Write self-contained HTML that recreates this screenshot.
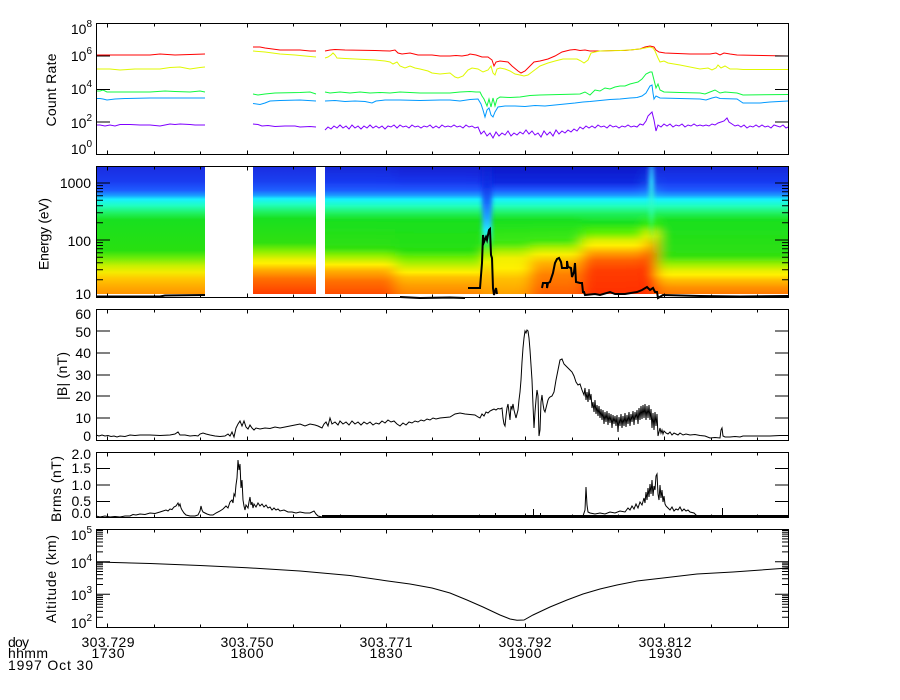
<!DOCTYPE html>
<html><head><meta charset="utf-8"><style>
html,body{margin:0;padding:0;background:#fff;}
svg{display:block;}
text{font-family:"Liberation Sans",sans-serif;fill:#000;}
</style></head><body>
<svg width="900" height="700" viewBox="0 0 900 700" xmlns="http://www.w3.org/2000/svg">
<defs>
<linearGradient id="g1" gradientUnits="userSpaceOnUse" x1="0" y1="166" x2="0" y2="294">
<stop offset="0" stop-color="#1a2ce0"/><stop offset=".12" stop-color="#1a3cf0"/><stop offset=".19" stop-color="#1e5cff"/><stop offset=".23" stop-color="#1a9cff"/><stop offset=".26" stop-color="#18f0ff"/><stop offset=".31" stop-color="#20ffc0"/><stop offset=".37" stop-color="#20f060"/><stop offset=".42" stop-color="#18e020"/><stop offset=".66" stop-color="#28e010"/><stop offset=".72" stop-color="#70ec08"/><stop offset=".78" stop-color="#c8f000"/><stop offset=".83" stop-color="#f4ec00"/><stop offset=".88" stop-color="#ffc800"/><stop offset=".93" stop-color="#ffb000"/><stop offset="1" stop-color="#ff9400"/>
</linearGradient>
<linearGradient id="g2" gradientUnits="userSpaceOnUse" x1="0" y1="166" x2="0" y2="294">
<stop offset="0" stop-color="#1a2ce0"/><stop offset=".12" stop-color="#1a40f0"/><stop offset=".19" stop-color="#1e60ff"/><stop offset=".23" stop-color="#1aa0ff"/><stop offset=".255" stop-color="#18f0ff"/><stop offset=".3" stop-color="#20ffc0"/><stop offset=".36" stop-color="#20f060"/><stop offset=".41" stop-color="#18e020"/><stop offset=".6" stop-color="#30e010"/><stop offset=".67" stop-color="#90f000"/><stop offset=".73" stop-color="#e8f000"/><stop offset=".76" stop-color="#fff000"/><stop offset=".81" stop-color="#ffb000"/><stop offset=".88" stop-color="#ff7000"/><stop offset="1" stop-color="#ff3c00"/>
</linearGradient>
<linearGradient id="g3a" gradientUnits="userSpaceOnUse" x1="0" y1="166" x2="0" y2="294">
<stop offset="0" stop-color="#1828d8"/><stop offset=".12" stop-color="#1838f0"/><stop offset=".19" stop-color="#1e5cff"/><stop offset=".23" stop-color="#1a9cff"/><stop offset=".26" stop-color="#18f0ff"/><stop offset=".31" stop-color="#20ffc0"/><stop offset=".37" stop-color="#20f060"/><stop offset=".42" stop-color="#18e020"/><stop offset=".64" stop-color="#30e010"/><stop offset=".7" stop-color="#90f000"/><stop offset=".75" stop-color="#e0f000"/><stop offset=".77" stop-color="#fff000"/><stop offset=".82" stop-color="#ffb000"/><stop offset=".9" stop-color="#ff7000"/><stop offset="1" stop-color="#ff4c00"/>
</linearGradient>
<linearGradient id="g3b" gradientUnits="userSpaceOnUse" x1="0" y1="166" x2="0" y2="294">
<stop offset="0" stop-color="#1420d0"/><stop offset=".12" stop-color="#1834ec"/><stop offset=".19" stop-color="#1e5cff"/><stop offset=".23" stop-color="#1a9cff"/><stop offset=".26" stop-color="#18f0ff"/><stop offset=".31" stop-color="#20ffc0"/><stop offset=".37" stop-color="#20f060"/><stop offset=".42" stop-color="#18e020"/><stop offset=".66" stop-color="#28e010"/><stop offset=".73" stop-color="#80f000"/><stop offset=".79" stop-color="#d0f000"/><stop offset=".83" stop-color="#fff000"/><stop offset=".87" stop-color="#ffc000"/><stop offset=".93" stop-color="#ffa000"/><stop offset="1" stop-color="#ff8400"/>
</linearGradient>
<linearGradient id="g3d" gradientUnits="userSpaceOnUse" x1="0" y1="166" x2="0" y2="294">
<stop offset="0" stop-color="#1020d0"/><stop offset=".15" stop-color="#1030e8"/><stop offset=".3" stop-color="#1a70ff"/><stop offset=".42" stop-color="#20b0ff"/><stop offset=".5" stop-color="#20e8ff"/><stop offset=".56" stop-color="#30f0c0"/><stop offset=".62" stop-color="#40f040"/><stop offset=".7" stop-color="#b0f000"/><stop offset=".75" stop-color="#f0f000"/><stop offset=".85" stop-color="#ffc000"/><stop offset="1" stop-color="#ff9800"/>
</linearGradient>
<linearGradient id="g3e" gradientUnits="userSpaceOnUse" x1="0" y1="166" x2="0" y2="294">
<stop offset="0" stop-color="#1018c8"/><stop offset=".13" stop-color="#1028e0"/><stop offset=".19" stop-color="#1e5cff"/><stop offset=".23" stop-color="#1a9cff"/><stop offset=".26" stop-color="#18f0ff"/><stop offset=".31" stop-color="#20ffc0"/><stop offset=".37" stop-color="#20f060"/><stop offset=".42" stop-color="#18e020"/><stop offset=".6" stop-color="#40e810"/><stop offset=".67" stop-color="#b0f000"/><stop offset=".72" stop-color="#f0f000"/><stop offset=".8" stop-color="#fff000"/><stop offset=".88" stop-color="#ffc000"/><stop offset="1" stop-color="#ffa000"/>
</linearGradient>
<linearGradient id="g3f" gradientUnits="userSpaceOnUse" x1="0" y1="166" x2="0" y2="294">
<stop offset="0" stop-color="#1018c8"/><stop offset=".13" stop-color="#1028e0"/><stop offset=".19" stop-color="#1e5cff"/><stop offset=".23" stop-color="#1a9cff"/><stop offset=".26" stop-color="#18f0ff"/><stop offset=".31" stop-color="#20ffc0"/><stop offset=".37" stop-color="#20f060"/><stop offset=".42" stop-color="#18e020"/><stop offset=".58" stop-color="#40e810"/><stop offset=".64" stop-color="#b0f000"/><stop offset=".69" stop-color="#f8f000"/><stop offset=".76" stop-color="#ffb000"/><stop offset=".85" stop-color="#ff8000"/><stop offset="1" stop-color="#ff6000"/>
</linearGradient>
<linearGradient id="g3g" gradientUnits="userSpaceOnUse" x1="0" y1="166" x2="0" y2="294">
<stop offset="0" stop-color="#1018c8"/><stop offset=".13" stop-color="#1028e0"/><stop offset=".19" stop-color="#1e5cff"/><stop offset=".23" stop-color="#1a9cff"/><stop offset=".26" stop-color="#18f0ff"/><stop offset=".31" stop-color="#20ffc0"/><stop offset=".37" stop-color="#20f060"/><stop offset=".44" stop-color="#18e020"/><stop offset=".52" stop-color="#60f000"/><stop offset=".58" stop-color="#d8f000"/><stop offset=".62" stop-color="#fff000"/><stop offset=".68" stop-color="#ffa000"/><stop offset=".74" stop-color="#ff6000"/><stop offset=".82" stop-color="#ff3c00"/><stop offset="1" stop-color="#ff3000"/>
</linearGradient>
<linearGradient id="g3h" gradientUnits="userSpaceOnUse" x1="0" y1="166" x2="0" y2="294">
<stop offset="0" stop-color="#1020d8"/><stop offset=".13" stop-color="#1a50f0"/><stop offset=".19" stop-color="#1e80ff"/><stop offset=".23" stop-color="#1ab0ff"/><stop offset=".26" stop-color="#18f0ff"/><stop offset=".31" stop-color="#20ffc0"/><stop offset=".37" stop-color="#20f060"/><stop offset=".45" stop-color="#40f000"/><stop offset=".51" stop-color="#d8f000"/><stop offset=".55" stop-color="#fff000"/><stop offset=".62" stop-color="#ffa000"/><stop offset=".7" stop-color="#ff5000"/><stop offset=".8" stop-color="#ff3000"/><stop offset="1" stop-color="#ff2800"/>
</linearGradient>
<linearGradient id="g3i" gradientUnits="userSpaceOnUse" x1="0" y1="166" x2="0" y2="294">
<stop offset="0" stop-color="#1828d8"/><stop offset=".12" stop-color="#1838f0"/><stop offset=".19" stop-color="#1e5cff"/><stop offset=".23" stop-color="#1a9cff"/><stop offset=".26" stop-color="#18f0ff"/><stop offset=".31" stop-color="#20ffc0"/><stop offset=".37" stop-color="#20f060"/><stop offset=".42" stop-color="#18e020"/><stop offset=".7" stop-color="#30e010"/><stop offset=".77" stop-color="#a0f000"/><stop offset=".82" stop-color="#e8f000"/><stop offset=".85" stop-color="#fff000"/><stop offset=".89" stop-color="#ffc000"/><stop offset=".95" stop-color="#ff9000"/><stop offset="1" stop-color="#ff7800"/>
</linearGradient>
<linearGradient id="gsp" gradientUnits="userSpaceOnUse" x1="0" y1="166" x2="0" y2="245">
<stop offset="0" stop-color="#30a0ff" stop-opacity=".9"/><stop offset=".2" stop-color="#30f0ff" stop-opacity=".9"/><stop offset=".6" stop-color="#30ffb0" stop-opacity=".7"/><stop offset="1" stop-color="#30f030" stop-opacity="0"/>
</linearGradient>
<filter id="hb" x="-10%" y="0" width="120%" height="100%"><feGaussianBlur stdDeviation="7 0"/></filter>
<filter id="hb2" x="-100%" y="0" width="300%" height="100%"><feGaussianBlur stdDeviation="2 0"/></filter>
<clipPath id="c3"><rect x="325" y="166" width="463" height="128"/></clipPath>
<path id="xtT" d="M107.5,0v4M247.5,0v4M386.5,0v4M525.5,0v4M664.5,0v4M154.5,0v3M200.5,0v3M293.5,0v3M340.5,0v3M432.5,0v3M479.5,0v3M572.5,0v3M618.5,0v3M711.5,0v3M757.5,0v3"/>
<path id="xtB" d="M107.5,0v-4M247.5,0v-4M386.5,0v-4M525.5,0v-4M664.5,0v-4M154.5,0v-3M200.5,0v-3M293.5,0v-3M340.5,0v-3M432.5,0v-3M479.5,0v-3M572.5,0v-3M618.5,0v-3M711.5,0v-3M757.5,0v-3"/>
<path id="p2m" d="M0,279.8h7M0,269.8h7M0,262.7h7M0,257.2h7M0,252.7h7M0,248.8h7M0,245.5h7M0,242.6h7M0,222.8h7M0,212.8h7M0,205.7h7M0,200.2h7M0,195.7h7M0,191.8h7M0,188.5h7M0,185.6h7"/>
<path id="p5m" d="M0,617.2h7M0,611.4h7M0,607.3h7M0,604.2h7M0,601.6h7M0,599.4h7M0,597.5h7M0,595.8h7M0,584.5h7M0,578.7h7M0,574.6h7M0,571.5h7M0,568.9h7M0,566.7h7M0,564.8h7M0,563.1h7M0,551.9h7M0,546.1h7M0,542h7M0,538.9h7M0,536.3h7M0,534.1h7M0,532.2h7M0,530.5h7"/>
</defs>

<rect width="900" height="700" fill="#fff"/>

<!-- ============ PANEL 1: Count Rate ============ -->
<g fill="none" stroke-width="1">
<polyline stroke="#ff0000" points="96,55 150,55 160,54 175,55 205,54"/>
<polyline stroke="#ff0000" points="253,47 260,47 265,48 280,50 300,50 310,51 316,51"/>
<polyline stroke="#ff0000" points="325,51 330,50 335,49.5 345,50 375,50.5 390,51 395,50 398,53 402,54 410,53 418,55 432,55 440,56 450,56 456,55.5 462,56 468,55 470,54 476,55 482,57 488,57 492,60 494,66 496,62 500,61 508,62 512,66 518,71 521,73 525,71 530,66 534,62 540,61 548,59 555,56 562,52 570,50 575,49.5 580,50.5 585,50 590,51 600,51 615,50.5 625,50.5 640,49 645,47 650,46 654,47 656,50 659,52 665,53 690,54 710,54 716,53 720,55 724,53 730,54 737,55 788,56"/>
<polyline stroke="#e0f800" points="96,69 110,69 120,70 135,69 160,69 170,67.5 180,67 190,69 200,67.5 205,67"/>
<polyline stroke="#e0f800" points="253,51 265,52 280,54 295,55 305,56 316,57"/>
<polyline stroke="#e0f800" points="325,58 328,57 331,55 333,53 335,55 337,58 345,58.5 355,59 365,59.5 375,60 385,61 390,62 393,64 397,62 400,66 405,68 410,66 415,68 420,69 428,71 432,73 440,74 450,73 455,77 458,78 463,76 468,70 472,68 478,69 483,72 488,70 491,66 493,73 495,75 497,69 500,68 505,69 510,71 515,74 520,75 524,76 528,75 532,72 536,69 540,66 548,63 555,61 563,59 570,59 577,59 581,61 584,63 588,60 591,53 595,52 600,51 620,50.5 630,50 640,49 645,48 650,47 653,48 655,51 658,58 660,62 664,61 668,63 680,65 700,69 708,68 712,70 716,68 718,65 721,68 725,66 730,69 737,69 743,69.5 788,69.5"/>
<polyline stroke="#10f840" points="96,91 100,91 103,90 107,92 150,92 165,91 175,91.5 190,92 200,91 205,92"/>
<polyline stroke="#10f840" points="253,94 258,95 265,94 275,93 300,92.5 310,92 316,94"/>
<polyline stroke="#10f840" points="325,92 330,93 340,92 350,93 360,92 370,93 380,92.5 390,93 400,92 420,93 440,93 450,93 460,92 470,91.5 476,92 480,92 482,96 484,99 487,106 489,99 491,107 493,98 495,106 497,99 500,97 510,97.5 520,97 530,95.5 540,95 560,94.5 580,94 585,92 590,95 595,90 600,91 605,88 610,89 615,87 620,86 625,86 630,84 638,82 642,79 646,74 650,72 652,72 654,80 656,88 658,84 660,90 664,92 680,92.5 700,93 705,94 710,92 715,90 720,93 725,92 737,93 743,95 788,94.5"/>
<polyline stroke="#0099ff" points="96,98.5 100,98.5 103,99 107,100 115,99 125,98.5 150,98 190,98 205,98"/>
<polyline stroke="#0099ff" points="253,103.5 260,104.5 265,103 270,101 280,100.5 300,100 316,101"/>
<polyline stroke="#0099ff" points="325,101 335,100.5 345,101.5 355,101 365,101.5 372,103 376,101 385,100 400,100 420,100.5 440,100 450,100 460,101 470,99.5 478,99 481,104 483,110 485,117 487,110 489,108 491,115 493,117 495,112 498,107 505,106 515,106 525,106.5 535,105.5 545,106 555,105 565,104 575,103 583,102 590,101.5 600,100.5 610,99.5 620,99 630,98 637,97.5 642,96 646,93 650,86 652,85 653,93 654,99 656,96 660,98 680,98.5 700,99 706,100 712,98 716,97 720,98.5 737,99 743,103 760,103 770,102 788,101"/>
<polyline stroke="#7f00ff" points="96,125 100,125 105,126 110,125 115,126 120,124.5 130,124.5 140,125 150,125 160,126 165,125 170,124 175,124.5 180,124 190,124.5 195,125 205,125"/>
<polyline stroke="#7f00ff" points="253,124 258,124.5 262,126 268,125.5 275,126.5 285,126 295,126 300,127 310,126.5 316,127"/>
<polyline stroke="#7f00ff" points="325,130 328,127 331,129 334,126 337,128 340,125 343,128 346,126 349,129 352,125 355,128 358,126 361,129 364,126 367,128 370,125 373,128 376,126 379,128 382,126 385,129 388,126 391,127 394,125 397,128 400,125 403,127 406,126 409,128 412,125 415,127 418,126 421,128 424,126 427,127 430,125 433,128 436,126 439,128 442,125 445,127 448,126 451,127 454,125 457,127 460,126 463,128 466,125 469,127 472,126 475,128 478,127 481,134 484,131 487,136 490,133 493,138 496,132 499,136 502,133 505,135 508,131 511,136 514,133 517,135 520,132 523,134 526,130 529,134 532,131 535,135 538,133 541,137 544,131 547,135 550,132 553,136 556,130 559,134 562,131 565,133 568,130 571,132 574,129 577,131 580,127 583,129 586,126 589,128 592,126 595,128 598,125 601,127 604,126 607,128 610,125 613,127 616,126 619,128 622,126 625,127 628,125 631,127 634,126 637,127 640,124 643,125 646,121 648,116 650,114 652,112 654,120 656,131 658,125 661,127 664,124 667,126 670,124 673,127 676,125 679,126 682,124 685,127 688,125 691,126 694,124 697,126 700,125 703,126 706,125 709,126 712,124 715,125 718,123 721,122 724,121 727,118 729,122 732,124 735,126 738,125 741,127 744,125 747,128 750,126 753,127 756,125 759,127 762,125 765,127 768,126 771,128 774,125 777,126 780,127 783,125 786,128 788,127"/>
</g>
<g stroke="#000" stroke-width="1" fill="none">
<rect x="96.5" y="23.5" width="692" height="131"/>
<path d="M96,56h14M96,89.5h14M96,122h14M775,56h14M775,89.5h14M775,122h14"/>
<use href="#xtT" y="23.5"/><use href="#xtB" y="154.5"/>
</g>
<text x="92" y="34" font-size="14" text-anchor="end">10<tspan dy="-7" font-size="10">8</tspan></text>
<text x="92" y="61" font-size="14" text-anchor="end">10<tspan dy="-7" font-size="10">6</tspan></text>
<text x="92" y="94" font-size="14" text-anchor="end">10<tspan dy="-7" font-size="10">4</tspan></text>
<text x="92" y="128" font-size="14" text-anchor="end">10<tspan dy="-7" font-size="10">2</tspan></text>
<text x="92" y="154" font-size="14" text-anchor="end">10<tspan dy="-7" font-size="10">0</tspan></text>
<text transform="translate(56,90) rotate(-90)" font-size="14" text-anchor="middle" textLength="73" lengthAdjust="spacing">Count Rate</text>

<!-- ============ PANEL 2: Spectrogram ============ -->
<rect x="96" y="166" width="109" height="128" fill="url(#g1)"/>
<rect x="253" y="166" width="63" height="128" fill="url(#g2)"/>
<g clip-path="url(#c3)">
<g filter="url(#hb)">
<rect x="290" y="166" width="105" height="128" fill="url(#g3a)"/>
<rect x="395" y="166" width="90" height="128" fill="url(#g3b)"/>
<rect x="485" y="166" width="10" height="128" fill="url(#g3e)"/>
<rect x="495" y="166" width="35" height="128" fill="url(#g3e)"/>
<rect x="530" y="166" width="52" height="128" fill="url(#g3f)"/>
<rect x="582" y="166" width="63" height="128" fill="url(#g3g)"/>
<rect x="645" y="166" width="12" height="128" fill="url(#g3h)"/>
<rect x="657" y="166" width="170" height="128" fill="url(#g3i)"/>
</g>
<rect x="482" y="166" width="10" height="128" fill="url(#g3d)" filter="url(#hb2)"/>
<rect x="649" y="166" width="5" height="80" fill="url(#gsp)" filter="url(#hb2)"/>
</g>
<g fill="none" stroke="#000" stroke-width="2">
<polyline points="97,296.5 160,296.5 165,295.5 205,295"/>
<polyline points="400,297 420,298 450,297.5 465,298"/>
<polyline points="468,288 480,288 482,263 483,235 484,242 486,237 487,240 489,230 490,229 491,255 492,258 493,288 494,295 496,288 497,294"/>
<polyline points="542,288 543,283 547,283 547,288 548,283 550,282 553,273 555,263 557,259 559,258 561,262 562,268 567,268 567,261 568,267 571,268 572,277 574,272 575,263 576,282 580,283 582,283 583,292 584,292 585,295 595,294 600,295 610,292 615,294 625,294 637,292 642,290 647,287 650,290 653,288 655,292 657,292 658,298 663,295 700,296 740,296.5 788,296"/>
</g>
<g stroke="#000" stroke-width="1" fill="none">
<rect x="96.5" y="166.5" width="692" height="131"/>
<path d="M96,183h14M96,240h14M775,183h14M775,240h14"/>
<use href="#p2m" x="96"/><use href="#p2m" x="782"/>
<use href="#xtT" y="166.5"/><use href="#xtB" y="297.5"/>
</g>
<text x="91" y="188" font-size="14" text-anchor="end">1000</text>
<text x="91" y="246" font-size="14" text-anchor="end">100</text>
<text x="91" y="299" font-size="14" text-anchor="end">10</text>
<text transform="translate(48.5,234) rotate(-90)" font-size="14" text-anchor="middle" textLength="72" lengthAdjust="spacing">Energy (eV)</text>

<!-- ============ PANEL 3: |B| ============ -->
<polyline fill="none" stroke="#000" stroke-width="1" points="96,435 99,436 102,435 105,436 108,435.5 111,436.5 114,436 117,437 120,436 125,436.5 130,435 135,435.5 140,435 150,435 160,435.5 170,435 175,434 178,432 180,435 185,435 190,436 195,435.5 198,436 200,434 203,433 206,434 210,435 215,436 220,436.5 225,436 228,434 230,436 232,432 234,437 236,428 238,424 240,421 242,426 244,421 246,427 248,429 250,425 252,428 254,430 256,428 260,429 265,428 270,428.5 275,427 280,428 285,427 290,426 295,425 300,424 305,426 310,424 315,425 318,426 320,427 322,428 324,424 326,422 328,426 330,418 332,424 335,422 338,425 340,421 343,424 346,422 349,425 352,421 355,424 358,422 361,425 364,422 367,424 370,422 373,425 376,423 379,424 382,421 385,423 388,420 391,422 394,421 397,424 400,426 403,423 406,425 409,422 412,423 415,421 418,422 421,420 424,421 427,419 430,420 433,418 436,419 440,418 445,417.5 450,417 455,414 460,413 465,414 470,414.5 475,415 478,417 480,418 482,414 484,416 486,412 488,413 490,411 492,410 494,409 496,410 498,408.5 500,409 502,408 503,418 504,424 505,426 506,416 507,408 508,404 509,412 510,420 511,406 512,409 513,404 514,410 516,418 518,410 519,400 520,392 521,380 522,362 523,348 524,338 525,331 526,333 527,330 528,331 529,338 530,350 531,365 532,380 533,405 534,428 535,412 536,400 537,390 538,396 539,436 540,430 541,402 542,395 543,404 544,410 545,412 546,408 547,404 548,400 549,398 550,397 552,396 554,392 556,380 558,370 560,360 562,359 564,364 566,366 568,368 570,370 572,372 574,376 576,382 578,385 580,384 582,390 584,395 585,388 586,400 587,392 588,402 589,389 590,400 591,394 592,408 593,402 594,412 595,400 596,414 597,405 598,416 599,406 600,418 601,409 602,420 603,410 604,424 605,412 606,422 607,411 608,425 609,413 610,423 611,414 612,428 613,415 614,424 615,416 616,426 617,415 618,432 619,417 620,426 621,414 622,428 623,416 624,426 625,413 626,427 627,415 628,424 629,412 630,426 631,414 632,422 633,411 634,425 635,412 636,420 637,410 638,424 639,408 640,420 641,406 642,419 643,405 644,418 645,404 646,420 647,406 648,418 649,405 650,420 651,409 652,428 653,413 654,430 655,412 656,426 657,414 658,436 659,432 660,428 661,433 662,430 663,434 664,431 666,433 668,434 670,432 672,435 674,433 676,434 678,435 680,433 683,435 686,434 690,435 695,434.5 700,435.5 705,436 710,438 715,437.5 720,438 721,430 722,428 723,436 725,437 730,437 735,436.5 740,437 743,436 750,436 760,436 770,436 780,435.5 788,435.5"/>
<g stroke="#000" stroke-width="1" fill="none">
<rect x="96.5" y="309.5" width="692" height="131"/>
<path d="M96,418h14M96,396h14M96,375h14M96,353h14M96,331h14M775,418h14M775,396h14M775,375h14M775,353h14M775,331h14"/>
<use href="#xtT" y="309.5"/><use href="#xtB" y="440.5"/>
</g>
<text x="91" y="319" font-size="14" text-anchor="end">60</text>
<text x="91" y="337" font-size="14" text-anchor="end">50</text>
<text x="91" y="358" font-size="14" text-anchor="end">40</text>
<text x="91" y="380" font-size="14" text-anchor="end">30</text>
<text x="91" y="401" font-size="14" text-anchor="end">20</text>
<text x="91" y="423" font-size="14" text-anchor="end">10</text>
<text x="91" y="441" font-size="14" text-anchor="end">0</text>
<text transform="translate(67,376) rotate(-90)" font-size="14" text-anchor="middle" textLength="48" lengthAdjust="spacing">|B| (nT)</text>

<!-- ============ PANEL 4: Brms ============ -->
<rect x="322" y="515" width="466" height="3" fill="#000"/>
<polyline fill="none" stroke="#000" stroke-width="1" points="96,516 100,517 105,516 110,517 115,516.5 120,517 125,516 130,516 133,514.5 136,515 140,514 145,514.5 150,513 155,513.5 160,512 163,511 166,510 168,511 170,509 172,509.5 174,507 176,506 178,503 179,506 180,504 181,508 182,510 184,513 186,515 190,516 195,516 198,515 200,511 201,506 202,510 203,512 205,513 207,514 210,515 213,515 216,513 220,511 223,509 226,506 228,508 230,502 232,500 233,503 234,494 235,496 236,485 237,478 238,460 239,470 240,464 241,488 242,480 243,500 244,506 245,510 246,505 248,508 249,502 250,497 251,505 252,502 253,508 254,504 256,507 258,503 260,506 262,504 264,507 266,505 268,508 270,507 272,510 274,508 276,510 278,509 280,511 284,510 288,512 292,512 296,513 300,512 305,513 310,513 314,511 316,514 318,516 322,517"/>
<polyline fill="none" stroke="#000" stroke-width="1" points="583,516 585,510 586,487 587,505 588,512 590,513 595,514 600,513 605,514 610,512 615,513 620,511 625,512 628,508 630,510 632,506 634,509 636,504 638,508 640,502 642,505 644,498 645,503 646,492 647,500 648,488 649,497 650,484 651,494 652,480 653,496 654,486 655,490 656,476 657,474 658,494 659,500 660,485 661,498 662,490 663,502 664,496 665,504 666,506 668,508 670,510 672,507 674,511 676,509 678,510 680,507 682,511 684,509 686,511 688,510 690,512 694,513 697,516 700,517"/>
<path d="M495.5,517v-4M533.5,517v-8M540.5,517v-4M722.5,517v-9" stroke="#000" stroke-width="1"/>
<g stroke="#000" stroke-width="1" fill="none">
<rect x="96.5" y="452.5" width="692" height="65"/>
<path d="M96,501.5h14M96,485h14M96,468.5h14M775,501.5h14M775,485h14M775,468.5h14"/>
<use href="#xtT" y="452.5"/><use href="#xtB" y="517.5"/>
</g>
<text x="91" y="459" font-size="14" text-anchor="end">2.0</text>
<text x="91" y="473" font-size="14" text-anchor="end">1.5</text>
<text x="91" y="490" font-size="14" text-anchor="end">1.0</text>
<text x="91" y="506" font-size="14" text-anchor="end">0.5</text>
<text x="91" y="518" font-size="14" text-anchor="end">0.0</text>
<text transform="translate(61,489) rotate(-90)" font-size="14" text-anchor="middle" textLength="66" lengthAdjust="spacing">Brms (nT)</text>

<!-- ============ PANEL 5: Altitude ============ -->
<polyline fill="none" stroke="#000" stroke-width="1" points="96,562 150,563.5 200,565.5 247,567.7 300,571 350,575.5 386,580.7 410,584 432,588 450,593 467,600 483,607 500,615 510,619 517,620.3 524,620 533,615 550,607 567,600 583,594 600,589 617,585 637,581 663,578 697,574 733,572 788,568"/>
<g stroke="#000" stroke-width="1" fill="none">
<rect x="96.5" y="529.5" width="692" height="98"/>
<path d="M96,594.3h14M96,561.7h14M775,594.3h14M775,561.7h14"/>
<use href="#p5m" x="96"/><use href="#p5m" x="782"/>
<use href="#xtT" y="529.5"/><use href="#xtB" y="627.5"/>
</g>
<text x="92" y="540" font-size="14" text-anchor="end">10<tspan dy="-7" font-size="10">5</tspan></text>
<text x="92" y="568" font-size="14" text-anchor="end">10<tspan dy="-7" font-size="10">4</tspan></text>
<text x="92" y="600" font-size="14" text-anchor="end">10<tspan dy="-7" font-size="10">3</tspan></text>
<text x="92" y="628" font-size="14" text-anchor="end">10<tspan dy="-7" font-size="10">2</tspan></text>
<text transform="translate(56,579) rotate(-90)" font-size="14" text-anchor="middle" textLength="88" lengthAdjust="spacing">Altitude (km)</text>

<!-- ============ Bottom labels ============ -->
<text x="8" y="647" font-size="14" textLength="21" lengthAdjust="spacing">doy</text>
<text x="8" y="658" font-size="14" textLength="40" lengthAdjust="spacing">hhmm</text>
<text x="8" y="670" font-size="14" textLength="85" lengthAdjust="spacing">1997 Oct 30</text>
<g font-size="14" text-anchor="middle">
<text x="108" y="647" textLength="53" lengthAdjust="spacing">303.729</text>
<text x="108" y="658" textLength="33" lengthAdjust="spacing">1730</text>
<text x="247" y="647" textLength="53" lengthAdjust="spacing">303.750</text>
<text x="247" y="658" textLength="33" lengthAdjust="spacing">1800</text>
<text x="386" y="647" textLength="53" lengthAdjust="spacing">303.771</text>
<text x="386" y="658" textLength="33" lengthAdjust="spacing">1830</text>
<text x="525" y="647" textLength="53" lengthAdjust="spacing">303.792</text>
<text x="525" y="658" textLength="33" lengthAdjust="spacing">1900</text>
<text x="665" y="647" textLength="53" lengthAdjust="spacing">303.812</text>
<text x="665" y="658" textLength="33" lengthAdjust="spacing">1930</text>
</g>
</svg>
</body></html>
